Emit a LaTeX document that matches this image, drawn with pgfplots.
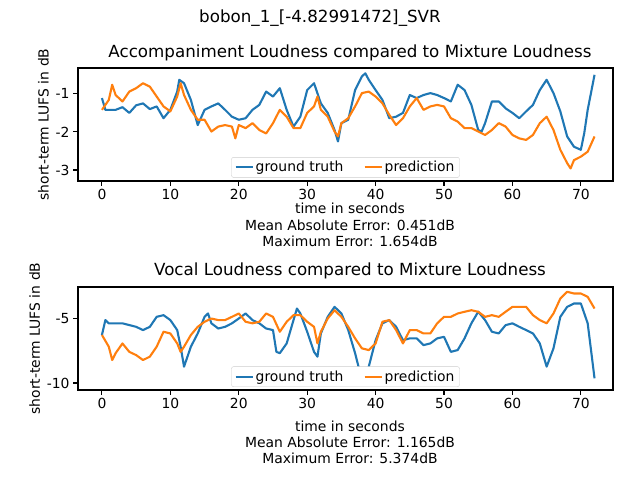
\documentclass[border=0pt]{standalone}
\usepackage{pgfplots}
\pgfplotsset{compat=1.18}
\usepackage{fontspec}
\setmainfont{DejaVu Sans}
\definecolor{mblue}{HTML}{1F77B4}
\definecolor{morange}{HTML}{FF7F0E}
\newcommand{\fs}{\fontsize{13.9}{16.5}\selectfont}
\pgfplotsset{
  myax/.style={scale only axis, width=535pt, xmin=-3.5, xmax=74.7,
    xtick={0,10,...,70}, tick align=outside, tick pos=left,
    major tick length=4.9pt, every tick/.style={black, line width=1.1pt},
    axis line style={line width=1.1pt},
    tick label style={font=\fs}, /pgf/number format/assume math mode=true,
    ylabel style={font=\fs}, ylabel={short-term LUFS in dB},
    legend style={at={(0.5,0.03)}, anchor=south, font=\fs, draw=black!20, rounded corners=2pt, legend columns=2, /tikz/every even column/.append style={column sep=18pt}},
    legend cell align=left,
    legend image post style={line width=2.1pt},
    every axis plot/.append style={line width=2.1pt, line join=round}
  }
}
\begin{document}
\begin{tikzpicture}
\path (0pt,0pt) rectangle (640pt,480pt);
\node[font=\fontsize{16.7}{19}\selectfont] at (320pt,462pt) {bobon\_1\_[-4.82991472]\_SVR};
\node[font=\fontsize{16.7}{19}\selectfont] at (350pt,427pt) {Accompaniment Loudness compared to Mixture Loudness};
\node[font=\fontsize{16.7}{19}\selectfont] at (350pt,209pt) {Vocal Loudness compared to Mixture Loudness};
\node[font=\fs] at (350pt,272pt) {time in seconds};
\node[font=\fs] at (350pt,255pt) {Mean Absolute Error: 0.451dB};
\node[font=\fs] at (350pt,239pt) {Maximum Error: 1.654dB};
\node[font=\fs] at (350pt,54pt) {time in seconds};
\node[font=\fs] at (350pt,38pt) {Mean Absolute Error: 1.165dB};
\node[font=\fs] at (350pt,22pt) {Maximum Error: 5.374dB};
\begin{axis}[myax, at={(78pt,299pt)}, anchor=south west, height=113pt, ymin=-3.29, ymax=-0.32, ytick={-3,-2,-1}]
\addplot[mblue] coordinates {(0,-1.11)(0.5,-1.42)(2,-1.42)(3,-1.35)(4,-1.5)(5,-1.3)(6,-1.25)(7,-1.4)(8,-1.33)(9,-1.64)(10,-1.42)(11,-0.94)(11.3,-0.63)(12,-0.72)(13,-1.16)(14,-1.82)(15,-1.42)(16,-1.33)(17,-1.25)(18,-1.42)(19,-1.6)(20,-1.68)(21,-1.64)(22,-1.42)(23,-1.29)(24,-0.94)(25,-1.07)(26,-0.85)(27,-1.42)(28,-1.86)(29,-1.6)(30,-0.9)(31,-0.72)(32,-1.25)(33,-1.5)(34,-1.95)(34.5,-2.25)(35,-1.77)(36,-1.68)(37,-0.9)(38,-0.54)(38.5,-0.46)(39,-0.63)(40,-0.9)(41,-1.16)(42,-1.64)(43,-1.6)(44,-1.5)(45,-1.03)(46,-1.11)(47,-1.03)(48,-0.98)(49,-1.03)(50,-1.11)(51,-1.2)(52,-0.76)(53,-0.9)(54,-1.29)(55,-1.95)(55.5,-1.99)(56,-1.77)(57,-1.2)(58,-1.2)(59,-1.38)(60,-1.5)(61,-1.64)(62,-1.46)(63,-1.29)(64,-0.9)(65,-0.63)(66,-0.98)(67,-1.46)(68,-2.12)(69,-2.39)(70,-2.47)(70.5,-2.03)(71,-1.42)(72,-0.5)};
\addlegendentry{ground truth}
\addplot[morange] coordinates {(0,-1.42)(1,-1.16)(1.5,-0.76)(2,-1.03)(3,-1.2)(4,-0.94)(5,-0.85)(6,-0.72)(7,-0.81)(8,-1.07)(9,-1.33)(10,-1.46)(11,-1.07)(11.5,-0.72)(12,-1.03)(13,-1.42)(14,-1.68)(15,-1.68)(16,-1.99)(17,-1.86)(18,-1.82)(19,-1.86)(19.5,-2.17)(20,-1.82)(21,-1.9)(22,-1.77)(23,-1.95)(24,-2.04)(25,-1.77)(26,-1.42)(27,-1.6)(28,-1.9)(29,-1.9)(30,-1.5)(31,-1.33)(31.5,-1.07)(32,-1.42)(33,-1.6)(34,-1.99)(34.5,-2.12)(35,-1.77)(36,-1.64)(37,-1.33)(38,-0.98)(39,-0.94)(40,-1.07)(41,-1.25)(42,-1.55)(43,-1.82)(44,-1.64)(45,-1.33)(46,-1.11)(47,-1.42)(48,-1.33)(49,-1.29)(50,-1.33)(51,-1.64)(52,-1.73)(53,-1.9)(54,-1.9)(55,-1.99)(56,-2.08)(57,-1.95)(58,-1.77)(59,-1.86)(60,-2.08)(61,-2.17)(62,-2.21)(63,-2.08)(64,-1.77)(65,-1.6)(66,-1.95)(67,-2.47)(68,-2.82)(68.5,-2.96)(69,-2.74)(70,-2.65)(71,-2.52)(72,-2.12)};
\addlegendentry{prediction}
\end{axis}
\begin{axis}[myax, at={(78pt,90pt)}, anchor=south west, height=103pt, ymin=-10.54, ymax=-2.6, ytick={-10,-5}]
\addplot[mblue] coordinates {(0,-6.3)(0.5,-5.15)(1,-5.4)(3,-5.4)(5,-5.67)(6,-5.92)(7,-5.67)(8,-4.9)(9,-4.77)(10,-5.15)(11,-5.92)(11.5,-7.2)(12,-8.74)(12.5,-7.97)(13,-7.2)(14,-6.18)(15,-4.9)(15.5,-4.64)(16,-5.4)(17,-5.8)(18,-5.67)(19,-5.4)(20,-5.03)(21,-4.64)(22,-5.15)(23,-5.4)(24,-5.8)(25,-5.92)(25.5,-7.6)(26,-7.7)(27,-6.95)(28,-5.15)(28.5,-4.26)(29,-4.64)(30,-6.05)(31,-7.6)(31.5,-7.97)(32,-6.18)(33,-4.9)(34,-4.13)(35,-4.64)(36,-5.92)(37,-7.7)(38,-9.77)(38.5,-10.15)(39,-8.74)(40,-6.7)(41,-5.4)(42,-5.15)(43,-5.67)(44,-6.7)(45,-6.56)(46,-6.56)(47,-7.08)(48,-6.95)(49,-6.56)(50,-6.44)(51,-7.6)(52,-7.46)(53,-6.56)(54,-5.4)(55,-4.51)(56,-5.15)(57,-6.05)(58,-6.18)(59,-5.54)(60,-5.4)(61,-5.67)(62,-5.92)(63,-6.18)(64,-6.95)(65,-8.74)(66,-7.33)(67,-4.9)(68,-4.13)(69,-3.87)(70,-3.87)(71,-5.4)(72,-9.64)};
\addlegendentry{ground truth}
\addplot[morange] coordinates {(0,-6.3)(1,-7.2)(1.5,-8.23)(2,-7.7)(3,-6.95)(4,-7.6)(5,-7.85)(6,-8.23)(7,-7.97)(8,-7.2)(9,-6.05)(10,-6.18)(11,-6.95)(11.5,-7.6)(12,-7.2)(13,-6.3)(14,-5.67)(15,-5.28)(16,-5.03)(17,-5.15)(18,-5.15)(19,-4.9)(20,-4.64)(21,-5.28)(22,-5.4)(23,-5.28)(24,-4.64)(25,-4.9)(26,-6.05)(27,-5.28)(28,-4.77)(29,-4.77)(30,-5.28)(31,-5.67)(31.5,-6.95)(32,-6.05)(33,-5.03)(34,-4.39)(35,-4.9)(36,-5.67)(37,-6.56)(38,-7.33)(39,-7.46)(40,-6.95)(41,-5.28)(42,-5.15)(43,-5.92)(44,-6.95)(45,-5.92)(46,-5.92)(47,-6.18)(48,-6.18)(49,-5.4)(50,-4.9)(51,-4.9)(52,-4.64)(53,-4.51)(54,-4.39)(55,-4.51)(56,-4.9)(57,-4.77)(58,-4.9)(59,-4.51)(60,-4.13)(61,-4.13)(62,-4.13)(63,-4.77)(64,-5.15)(65,-5.4)(66,-4.64)(67,-3.49)(68,-2.97)(69,-3.1)(70,-3.1)(71,-3.36)(72,-4.26)};
\addlegendentry{prediction}
\end{axis}
\end{tikzpicture}
\end{document}
